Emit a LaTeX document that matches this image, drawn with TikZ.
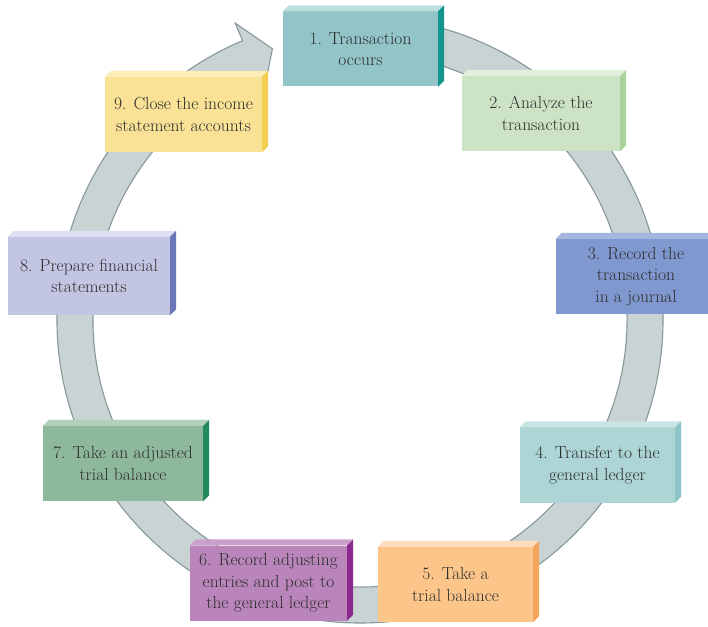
\documentclass[tikz,border=0pt]{standalone}
\usepackage{fontspec}
\usetikzlibrary{calc}

\definecolor{ringFill}{HTML}{C9D3D4}
\definecolor{ringLine}{HTML}{86989A}
\definecolor{txtGray}{HTML}{2E2E2E}
% front / top / side of each step
\definecolor{aFront}{HTML}{93C5C8}\definecolor{aTop}{HTML}{BCDEDE}\definecolor{aSide}{HTML}{12958F}
\definecolor{bFront}{HTML}{CCE4C5}\definecolor{bTop}{HTML}{E0F0DA}\definecolor{bSide}{HTML}{A8D49C}
\definecolor{cFront}{HTML}{7F98CF}\definecolor{cTop}{HTML}{A5B6DE}\definecolor{cSide}{HTML}{5B76B9}
\definecolor{dFront}{HTML}{ADD5D6}\definecolor{dTop}{HTML}{C8E4E4}\definecolor{dSide}{HTML}{8DC4C7}
\definecolor{eFront}{HTML}{FCC68B}\definecolor{eTop}{HTML}{FDDDBC}\definecolor{eSide}{HTML}{F6A55D}
\definecolor{fFront}{HTML}{B985BB}\definecolor{fTop}{HTML}{CB9FCC}\definecolor{fSide}{HTML}{8D2A90}
\definecolor{gFront}{HTML}{8EB89B}\definecolor{gTop}{HTML}{B2D0BA}\definecolor{gSide}{HTML}{21895B}
\definecolor{hFront}{HTML}{C3C6E3}\definecolor{hTop}{HTML}{DDDFF1}\definecolor{hSide}{HTML}{6B76B8}
\definecolor{iFront}{HTML}{F9E196}\definecolor{iTop}{HTML}{FCEDB9}\definecolor{iSide}{HTML}{F4CE4F}

\begin{document}
\begin{tikzpicture}[x=1pt,y=1pt,
    stepbox/.style={minimum width=157, minimum height=75, inner sep=0pt,
        align=center, text=txtGray, font=\fontsize{17.5}{21.5}\selectfont},
    ring/.style={fill=ringFill, draw=ringLine, line width=1.1pt}]

\useasboundingbox (0,0) rectangle (708,626);

\coordinate (cRingPt) at (360,306);

% the cycle arrow
\begin{scope}[shift={(cRingPt)}]
\draw[ring] (85:303) arc[start angle=85, end angle=-247.2, radius=303]
    -- (112.8:322) -- (107.9:285) -- (112.8:248) -- (112.8:267)
    arc[start angle=-247.2, end angle=85, radius=267] -- cycle;
\end{scope}

% the nine steps
\node[stepbox, fill=aFront, minimum width=155] (s1) at (360.5,577) {1. Transaction\\occurs};
\node[stepbox, fill=bFront, minimum width=158] (s2) at (541,512.5) {2. Analyze the\\transaction};
\node[stepbox, fill=cFront, minimum width=160] (s3) at (636,349.5) {3. Record the\\transaction\\in a journal};
\node[stepbox, fill=dFront, minimum width=155] (s4) at (597.5,161) {4. Transfer to the\\general ledger};
\node[stepbox, fill=eFront, minimum width=155] (s5) at (455.5,41.5) {5. Take a\\trial balance};
\node[stepbox, fill=fFront] (s6) at (268.5,43) {6. Record adjusting\\entries and post to\\the general ledger};
\node[stepbox, fill=gFront, minimum width=160] (s7) at (123,162.5) {7. Take an adjusted\\trial balance};
\node[stepbox, fill=hFront, minimum width=162, minimum height=78] (s8) at (89,350) {8. Prepare financial\\statements};
\node[stepbox, fill=iFront] (s9) at (183.5,511.5) {9. Close the income\\statement accounts};

% top and side faces
\foreach \s/\tc/\sc in
{   s1/aTop/aSide,
    s2/bTop/bSide,
    s3/cTop/cSide,
    s4/dTop/dSide,
    s5/eTop/eSide,
    s6/fTop/fSide,
    s7/gTop/gSide,
    s8/hTop/hSide,
    s9/iTop/iSide%
}
{
    \fill[\tc] (\s.north west) -- ++(6,6) -- ([shift={(6,6)}]\s.north east) -- (\s.north east) -- cycle;
    \fill[\sc] (\s.north east) -- ++(6,6) -- ([shift={(6,6)}]\s.south east) -- (\s.south east) -- cycle;
};

\end{tikzpicture}
\end{document}
